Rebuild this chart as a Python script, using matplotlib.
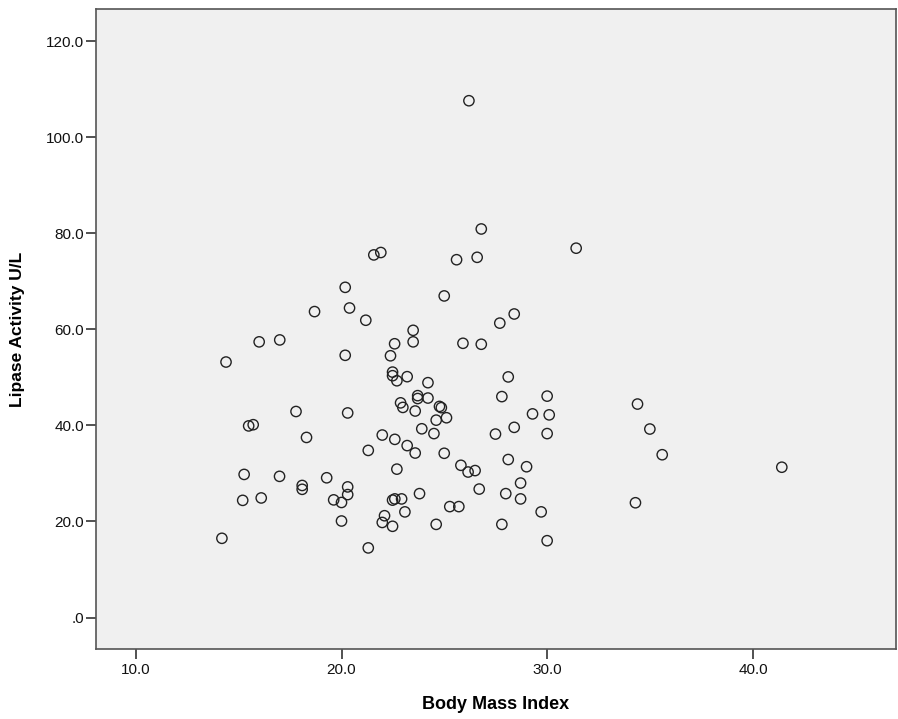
import numpy as np
import matplotlib
matplotlib.use("Agg")
import matplotlib.pyplot as plt
from matplotlib.ticker import FuncFormatter

# values
bmi = [26.19, 26.79, 21.57, 21.91, 25.59, 26.59, 20.18, 24.99, 18.69, 20.39,
       21.18, 23.48, 31.40, 28.39, 27.69,
       23.48, 22.58, 25.90, 26.79, 16.00, 17.00, 14.39, 20.18, 22.38, 22.48,
       22.48, 22.69, 23.19, 24.20, 23.70, 23.70, 24.20, 22.87, 22.98, 23.58,
       24.76, 24.85, 24.60, 25.10, 23.90, 24.49, 21.98, 22.59, 23.19, 23.58,
       21.30, 24.99, 17.79, 20.30, 15.49, 15.71, 18.30, 25.80, 26.15, 26.49,
       26.69, 22.69, 15.27, 16.99, 19.28, 18.09, 18.09, 20.30, 20.30, 15.20,
       16.10, 19.62, 20.00, 22.48, 22.59, 22.92, 23.79, 25.26, 25.70, 23.08,
       22.09, 21.98, 22.48, 24.60, 20.00, 14.19, 21.30,
       28.10, 27.79, 29.99, 29.28, 30.09, 28.39, 27.48, 29.99, 28.10, 28.99,
       28.70, 27.98, 28.70, 29.70, 27.79, 29.99, 34.38, 34.98, 35.58, 34.28,
       41.39]
lipase = [107.6, 80.9, 75.5, 76.0, 74.5, 75.0, 68.75, 66.96, 63.7, 64.45,
          61.9, 59.8, 76.9, 63.2, 61.3,
          57.4, 57.0, 57.1, 56.9, 57.4, 57.8, 53.2, 54.6, 54.5, 51.1,
          50.35, 49.3, 50.15, 48.9, 46.2, 45.6, 45.7, 44.7, 43.75, 43.0,
          43.96, 43.7, 41.1, 41.6, 39.3, 38.3, 38.0, 37.1, 35.8, 34.25,
          34.8, 34.2, 42.9, 42.6, 39.9, 40.15, 37.5, 31.7, 30.3, 30.6,
          26.75, 30.9, 29.8, 29.4, 29.1, 27.5, 26.7, 27.2, 25.6, 24.4,
          24.9, 24.5, 23.96, 24.45, 24.7, 24.7, 25.8, 23.1, 23.1, 22.0,
          21.2, 19.8, 19.0, 19.4, 20.1, 16.5, 14.5,
          50.1, 46.0, 46.1, 42.4, 42.2, 39.6, 38.2, 38.3, 32.9, 31.4,
          28.0, 25.8, 24.7, 22.0, 19.4, 16.0, 44.45, 39.25, 33.9, 23.9,
          31.3]

x_ticks = [10, 20, 30, 40]
y_ticks = [0, 20, 40, 60, 80, 100, 120]

plt.rcParams['font.family'] = ['Liberation Sans', 'DejaVu Sans']

fig = plt.figure(figsize=(8.98, 7.19), dpi=100)
ax = fig.add_axes([0.1066, 0.097, 0.891, 0.8905])
ax.set_facecolor('#f0f0f0')

ax.scatter(bmi, lipase, s=55, facecolors='none', edgecolors='#222222',
           linewidths=1.0, zorder=3)

ax.set_xlim(8.06, 46.93)
ax.set_ylim(-6.6, 126.7)
ax.set_xticks(x_ticks)
ax.set_yticks(y_ticks)


def fmt(v, pos):
    s = f"{v:.1f}"
    return s[1:] if s.startswith("0") else s


ax.xaxis.set_major_formatter(FuncFormatter(fmt))
ax.yaxis.set_major_formatter(FuncFormatter(fmt))
ax.tick_params(direction='out', length=7, width=1.2, colors='#333333',
               labelsize=11, labelcolor='#111111')
ax.tick_params(axis='y', pad=1.5)
ax.tick_params(axis='x', pad=3)

for side in ['top', 'right', 'left', 'bottom']:
    ax.spines[side].set_color('#555555')
    ax.spines[side].set_linewidth(1.2)

ax.set_xlabel('Body Mass Index', fontsize=13, fontweight='bold', va='center')
ax.set_ylabel('Lipase Activity U/L', fontsize=12.5, fontweight='bold', va='center')
ax.xaxis.set_label_coords(0.5, -0.087)
ax.yaxis.set_label_coords(-0.098, 0.5)

fig.savefig('out.png', dpi=100)
